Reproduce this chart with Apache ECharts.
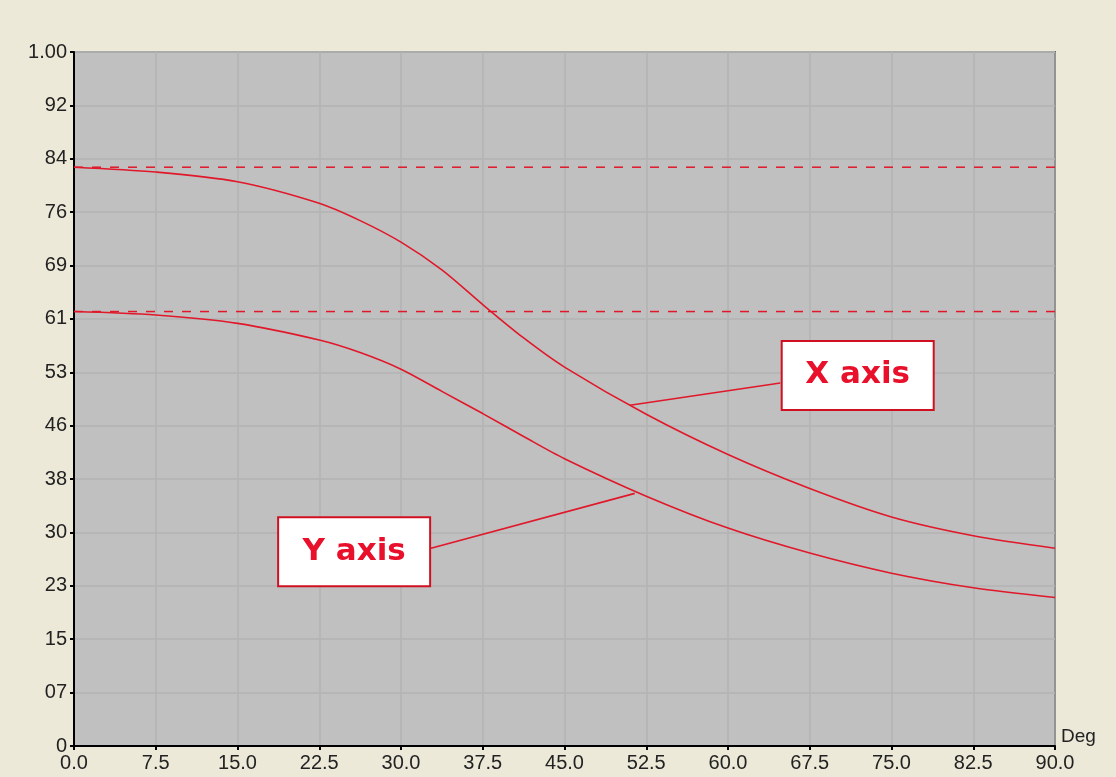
<!DOCTYPE html>
<html>
<head>
<meta charset="utf-8">
<script src="https://cdn.jsdelivr.net/npm/echarts@6/dist/echarts.min.js"></script>
<style>
html,body{margin:0;padding:0;background:#ECE9D8;}
#chart{width:1116px;height:777px;}
</style>
</head>
<body>
<div id="chart"></div>
<script>
// Angle (deg)
var degrees = [0, 7.5, 15, 22.5, 26.25, 30, 33.75, 37.5, 41.25, 45, 52.5, 60, 67.5, 75, 82.5, 90];
// X axis curve values
var xAxisValues = [0.834, 0.827, 0.813, 0.782, 0.757, 0.726, 0.686, 0.636, 0.588, 0.546, 0.478, 0.420, 0.371, 0.330, 0.303, 0.285];
// Y axis curve values
var yAxisValues = [0.626, 0.621, 0.609, 0.585, 0.567, 0.543, 0.511, 0.479, 0.446, 0.414, 0.360, 0.314, 0.278, 0.249, 0.228, 0.214];
// Reference (dashed) levels
var xRefLevel = 0.834;
var yRefLevel = 0.626;
// Y tick labels (0 .. 1 in 13 steps)
var yTickLabels = ['0','07','15','23','30','38','46','53','61','69','76','84','92','1.00'];
// Callout labels: [deg, value] anchor of box centre and pointer lines
var xCalloutBox = [71.9, 0.534];
var yCalloutBox = [25.7, 0.280];
var xPointer = [[64.8, 0.523], [51.0, 0.491]];
var yPointer = [[32.75, 0.285], [51.45, 0.364]];

var RED = '#e0182a';
function pairs(xs, ys){ return xs.map(function(x,i){ return [x, ys[i]]; }); }

var chart = echarts.init(document.getElementById('chart'));
var boxLabel = function(text){
  return {
    show: true, position: 'inside', formatter: text, opacity: 1,
    width: 150, height: 67, lineHeight: 67, align: 'center', verticalAlign: 'middle',
    backgroundColor: '#ffffff', borderColor: '#d01020', borderWidth: 2,
    color: '#e8102a', fontSize: 31, fontWeight: 'bold', fontFamily: 'DejaVu Sans'
  };
};
chart.setOption({
  backgroundColor: '#ECE9D8',
  animation: false,
  grid: {left: 74, right: 61, top: 52, bottom: 31, show: true, backgroundColor: '#c0c0c0', borderColor: '#000', borderWidth: 1.5},
  xAxis: {
    type: 'value', min: 0, max: 90, interval: 7.5,
    name: 'Deg', nameLocation: 'end', nameGap: 6,
    nameTextStyle: {color: '#222', fontSize: 19, fontFamily: 'Liberation Sans', align: 'left', verticalAlign: 'bottom', padding: [0,0,0,0]},
    axisLine: {show: true, lineStyle: {color: '#000', width: 2}},
    axisTick: {show: true, length: 4, lineStyle: {color: '#000', width: 2}},
    axisLabel: {color: '#222', fontSize: 20, fontFamily: 'Liberation Sans', margin: 7, formatter: function(v){ return v.toFixed(1); }},
    splitLine: {show: true, lineStyle: {color: '#b3b3b3', width: 1.5}}
  },
  yAxis: {
    type: 'value', min: 0, max: 1, interval: 1/13,
    axisLine: {show: true, lineStyle: {color: '#000', width: 2}},
    axisTick: {show: true, length: 4, lineStyle: {color: '#000', width: 2}},
    axisLabel: {color: '#222', fontSize: 20, fontFamily: 'Liberation Sans', margin: 7,
      formatter: function(v){ return yTickLabels[Math.round(v*13)]; }},
    splitLine: {show: true, lineStyle: {color: '#b3b3b3', width: 1.5}}
  },
  series: [
    {type: 'line', data: [[0, xRefLevel], [90, xRefLevel]], symbol: 'none', silent: true,
      lineStyle: {color: RED, width: 1.5, type: [9, 9]}},
    {type: 'line', data: [[0, yRefLevel], [90, yRefLevel]], symbol: 'none', silent: true,
      lineStyle: {color: RED, width: 1.5, type: [9, 9]}},
    {type: 'line', name: 'X axis', data: pairs(degrees, xAxisValues), smooth: 0.3, symbol: 'none',
      lineStyle: {color: RED, width: 1.6}},
    {type: 'line', name: 'Y axis', data: pairs(degrees, yAxisValues), smooth: 0.3, symbol: 'none',
      lineStyle: {color: RED, width: 1.6}},
    {type: 'line', data: xPointer, symbol: 'none', lineStyle: {color: RED, width: 1.6}},
    {type: 'line', data: yPointer, symbol: 'none', lineStyle: {color: RED, width: 1.6}},
    {type: 'scatter', data: [xCalloutBox], symbolSize: 1, itemStyle: {color: 'rgba(0,0,0,0)', opacity: 1}, z: 10, label: boxLabel('X axis')},
    {type: 'scatter', data: [yCalloutBox], symbolSize: 1, itemStyle: {color: 'rgba(0,0,0,0)', opacity: 1}, z: 10, label: boxLabel('Y axis')}
  ]
});
</script>
</body>
</html>
